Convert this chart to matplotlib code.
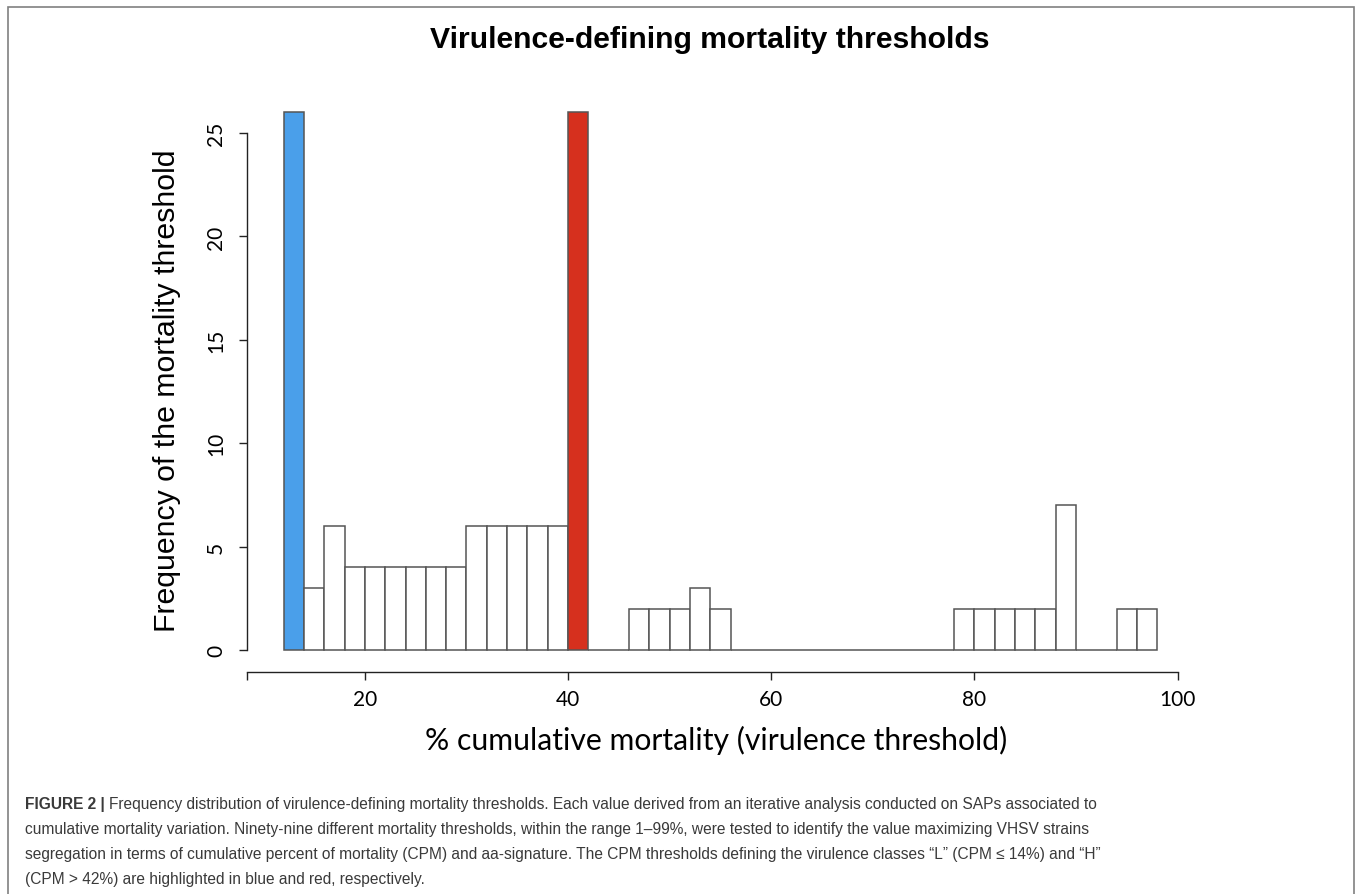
import matplotlib
matplotlib.use("Agg")
import matplotlib.pyplot as plt
from matplotlib.patches import Rectangle

# histogram bins (2% wide) and counts
bin_edges = list(range(12, 100, 2))
counts = [26, 3, 6, 4, 4, 4, 4, 4, 4, 6, 6, 6, 6, 6, 26, 0, 0, 2, 2, 2, 3, 2,
          0, 0, 0, 0, 0, 0, 0, 0, 0, 0, 0, 2, 2, 2, 2, 2, 7, 0, 0, 2, 2]
low_threshold = 14
high_threshold = 42

x_ticks = [20, 40, 60, 80, 100]
y_ticks = [0, 5, 10, 15, 20, 25]

title = "Virulence-defining mortality thresholds"
x_label = "% cumulative mortality (virulence threshold)"
y_label = "Frequency of the mortality threshold"
caption_head = "FIGURE 2 | "
caption_lines = [
    "Frequency distribution of virulence-defining mortality thresholds. Each value derived from an iterative analysis conducted on SAPs associated to",
    "cumulative mortality variation. Ninety-nine different mortality thresholds, within the range 1\u201399%, were tested to identify the value maximizing VHSV strains",
    "segregation in terms of cumulative percent of mortality (CPM) and aa-signature. The CPM thresholds defining the virulence classes \u201cL\u201d (CPM \u2264 14%) and \u201cH\u201d",
    "(CPM > 42%) are highlighted in blue and red, respectively.",
]

BLUE = "#4a9fea"
RED = "#d6301e"
EDGE = "#555555"

W, H = 1357, 895
fig = plt.figure(figsize=(W / 100, H / 100), dpi=100)

# outer frame
fig.patches.append(Rectangle((8 / W, -0.05), (1354 - 8) / W, (H - 8) / H + 0.05,
                             transform=fig.transFigure, fill=False,
                             edgecolor="#808080", linewidth=1.2))

x_start = 8.4
ax = fig.add_axes([247 / W, (H - 673) / H, (1177.7 - 247) / W, (673 - 92.6) / H])
ax.set_xlim(x_start, 100)
ax.set_ylim(-1.06, 27)

colors = []
for left in bin_edges[:len(counts)]:
    if left + 2 == low_threshold:
        colors.append(BLUE)
    elif left + 2 == high_threshold:
        colors.append(RED)
    else:
        colors.append("white")
ax.bar(bin_edges[:len(counts)], counts, width=2, align="edge", color=colors,
       edgecolor=EDGE, linewidth=1.1)

for s in ["top", "right"]:
    ax.spines[s].set_visible(False)
ax.spines["left"].set_bounds(0, 25)
ax.spines["bottom"].set_bounds(x_start, 100)
for s in ["left", "bottom"]:
    ax.spines[s].set_color("#222222")
    ax.spines[s].set_linewidth(1.0)

ax.set_xticks([x_start] + x_ticks)
ax.set_xticklabels([""] + [str(t) for t in x_ticks], fontsize=15, family="Lato")
ax.set_yticks(y_ticks)
ax.set_yticklabels([str(t) for t in y_ticks], fontsize=15, family="Lato",
                   rotation=90, va="center")
ax.tick_params(axis="both", length=6, width=1.0, color="#222222")
ax.tick_params(axis="x", pad=6)
ax.tick_params(axis="y", pad=9)

fig.text(710 / W, 1 - 40 / H, title, ha="center", va="center",
         fontsize=21.7, fontweight="bold", family="Liberation Sans")
fig.text(716 / W, 1 - 740 / H, x_label, ha="center", va="center",
         fontsize=21.7, family="Lato")
fig.text(167 / W, 1 - 391 / H, y_label, ha="center", va="center",
         rotation=90, fontsize=21.8, family="Liberation Sans")

# caption
cap_font = "Liberation Sans"
cap_color = "#3a3a3a"
cap_size = 11.2
line_y = [804, 830, 855, 880]
head = fig.text(25 / W, 1 - line_y[0] / H, caption_head, ha="left", va="center",
                fontsize=cap_size, fontweight="bold", family=cap_font, color=cap_color)
renderer = fig.canvas.get_renderer()
head_w = head.get_window_extent(renderer).width
fig.text((25 + head_w) / W, 1 - line_y[0] / H, caption_lines[0], ha="left",
         va="center", fontsize=cap_size, family=cap_font, color=cap_color)
for y, line in zip(line_y[1:], caption_lines[1:]):
    fig.text(25 / W, 1 - y / H, line, ha="left", va="center",
             fontsize=cap_size, family=cap_font, color=cap_color)

fig.savefig("out.png", dpi=100)
